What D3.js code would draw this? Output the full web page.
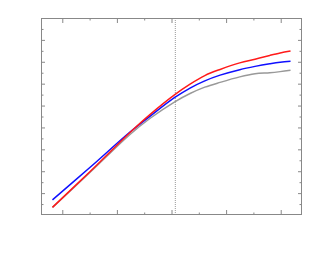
<!DOCTYPE html>
<html lang="en">
<head>
    <meta charset="UTF-8">
    <title></title>
    <style>
        body { margin: 0; background: #fff; }
        .axis path { display: none; }
        .axis line { stroke: #888; }
        .frame { fill: none; stroke: #888; stroke-width: 1; }
        .curve { fill: none; stroke-width: 1.5; stroke-linejoin: round; }
    </style>
</head>
<body>

<svg class="chart"></svg>

<script src="https://cdn.jsdelivr.net/npm/d3@7/dist/d3.min.js"></script>

<script>

    var xs = [0.82, 1.51, 2.24, 2.61, 3.06, 3.34, 3.61, 3.89, 4.25, 4.53, 4.80, 4.99, 5.18];
    var red = [0.35, 1.99, 3.77, 4.60, 5.50, 5.98, 6.37, 6.65, 6.95, 7.12, 7.29, 7.40, 7.49];
    var blue = [0.69, 2.18, 3.79, 4.52, 5.37, 5.80, 6.13, 6.39, 6.64, 6.79, 6.91, 6.98, 7.02];
    var gray = [0.35, 1.95, 3.68, 4.42, 5.17, 5.55, 5.84, 6.06, 6.31, 6.45, 6.50, 6.55, 6.61];
    var xMajor = [1, 2, 3, 4, 5];
    var xMinor = [1.5, 2.5, 3.5, 4.5];
    var yMajor = [1, 2, 3, 4, 5, 6, 7, 8];
    var yMinor = [0.5, 1.5, 2.5, 3.5, 4.5, 5.5, 6.5, 7.5, 8.5];
    var marker = 3.07;

    var width = 314, height = 256;
    var pLeft = 41, pRight = 302, pTop = 18, pBottom = 215;

    var x = d3.scaleLinear().domain([0.61, 5.39]).range([pLeft, pRight]);
    var y = d3.scaleLinear().domain([0, 9]).range([pBottom, pTop]);

    var svg = d3.select('.chart')
            .attr("width", width)
            .attr("height", height);

    // ticks point inwards on all four sides
    function addAxis(axis, values, size, tx, ty) {
        svg.append("g")
                .attr("class", "axis")
                .attr("transform", "translate(" + tx + "," + ty + ")")
                .call(axis.tickValues(values).tickSize(-size).tickFormat(""));
    }
    addAxis(d3.axisBottom(x), xMajor, 5, 0, pBottom);
    addAxis(d3.axisBottom(x), xMinor, 2.5, 0, pBottom);
    addAxis(d3.axisTop(x), xMajor, 5, 0, pTop);
    addAxis(d3.axisTop(x), xMinor, 2.5, 0, pTop);
    addAxis(d3.axisLeft(y), yMajor, 4, pLeft, 0);
    addAxis(d3.axisLeft(y), yMinor, 2.5, pLeft, 0);
    addAxis(d3.axisRight(y), yMajor, 4, pRight, 0);
    addAxis(d3.axisRight(y), yMinor, 2.5, pRight, 0);

    svg.append("line")
            .attr("x1", x(marker)).attr("x2", x(marker))
            .attr("y1", pTop).attr("y2", pBottom)
            .attr("stroke", "#999")
            .attr("stroke-width", 1)
            .attr("stroke-dasharray", "1,1");

    var line = d3.line()
            .x(function (d, i) { return x(xs[i]); })
            .y(function (d) { return y(d); })
            .curve(d3.curveCatmullRom.alpha(0.5));

    var series = [[gray, "#999999"], [blue, "#0f0fff"], [red, "#ff1a1a"]];
    series.forEach(function (s) {
        svg.append("path")
                .attr("class", "curve")
                .attr("stroke", s[1])
                .attr("d", line(s[0]));
    });

    svg.append("rect")
            .attr("class", "frame")
            .attr("x", pLeft + 0.5).attr("y", pTop + 0.5)
            .attr("width", pRight - pLeft - 1).attr("height", pBottom - pTop - 1);

</script>

</body>
</html>
